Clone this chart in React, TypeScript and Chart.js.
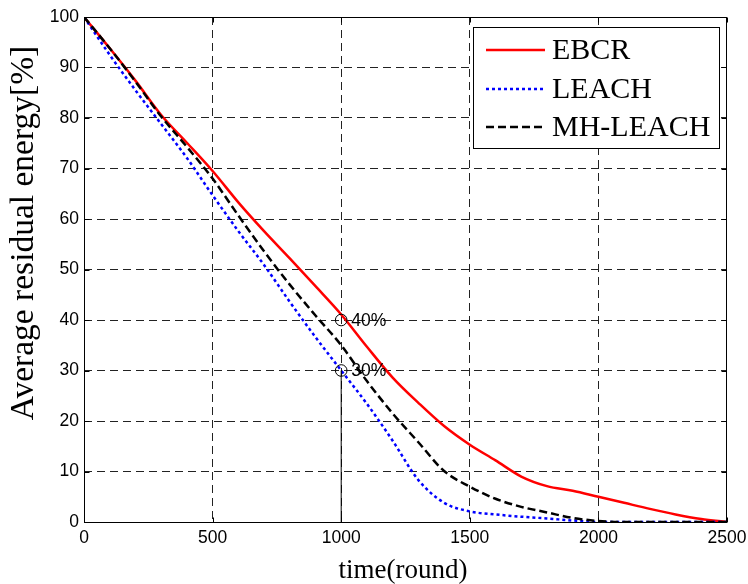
import React, { useEffect, useRef } from 'react';
import { Chart, registerables } from 'chart.js';

Chart.register(...registerables);

// ---- data ----
const rounds = [0, 100, 200, 300, 400, 500, 600, 700, 800, 900, 1000, 1100, 1200, 1300, 1400, 1500, 1600, 1700, 1800, 1900, 2000, 2100, 2200, 2300, 2400, 2500];
const ebcr = [100, 93.8, 87.4, 80.6, 75.1, 69.5, 63.3, 57.6, 52.2, 46.7, 41.1, 34.7, 28.6, 23.6, 19.0, 15.3, 12.2, 9.0, 7.1, 6.2, 5.0, 3.8, 2.6, 1.5, 0.6, 0];
const leach = [100, 92.5, 85.5, 78.8, 72.1, 64.7, 57.6, 50.9, 43.6, 36.6, 30.0, 23.4, 16.1, 8.3, 3.8, 2.1, 1.5, 1.05, 0.7, 0.3, 0, 0, 0, 0, 0, 0];
const mhLeach = [100, 93.8, 87.2, 80.3, 74.3, 68.0, 60.7, 53.6, 47.0, 40.9, 35.0, 27.9, 21.5, 15.8, 10.1, 7.0, 4.6, 3.0, 1.9, 0.8, 0.2, 0, 0, 0, 0, 0];
const seriesLabels = ['EBCR', 'LEACH', 'MH-LEACH'];

const markerRounds = [1000, 1000];
const markerValues = [40, 30];
const markerLabels = ['40%', '30%'];
const guideRounds = [1000, 1000];
const guideValues = [0, 30];

const xMin = 0, xMax = 2500, xStep = 500;
const yMin = 0, yMax = 100, yStep = 10;
const xTitle = 'time(round)';
const yTitle = 'Average residual energy[%]';

const toXY = (xs: number[], ys: number[]) => xs.map((x, i) => ({ x, y: ys[i] }));

const decorPlugin = {
  id: 'decor',
  afterDatasetsDraw(chart: any) {
    const { ctx, chartArea: a, scales } = chart;
    const xs = scales.x, ys = scales.y;
    ctx.save();
    // annotation labels
    ctx.font = '17.5px "Liberation Sans"';
    ctx.fillStyle = '#000';
    ctx.textBaseline = 'middle';
    ctx.textAlign = 'left';
    markerLabels.forEach((t, i) => {
      ctx.fillText(t, xs.getPixelForValue(markerRounds[i]) + 10, ys.getPixelForValue(markerValues[i]) + 1);
    });

    // frame
    ctx.setLineDash([]);
    ctx.strokeStyle = '#000';
    ctx.lineWidth = 1;
    const L = Math.round(a.left) + 0.5, R = Math.round(a.right) - 0.5;
    const T = Math.round(a.top) + 0.5, B = Math.round(a.bottom) + 0.5;
    ctx.strokeRect(L, T, R - L, B - T);

    // inward ticks
    const tl = 5;
    ctx.beginPath();
    for (let v = xMin; v <= xMax; v += xStep) {
      const px = Math.round(xs.getPixelForValue(v)) + 0.5;
      ctx.moveTo(px, B); ctx.lineTo(px, B - tl);
      ctx.moveTo(px, T); ctx.lineTo(px, T + tl);
    }
    for (let v = yMin; v <= yMax; v += yStep) {
      const py = Math.round(ys.getPixelForValue(v)) + 0.5;
      ctx.moveTo(L, py); ctx.lineTo(L + tl, py);
      ctx.moveTo(R, py); ctx.lineTo(R - tl, py);
    }
    ctx.stroke();

    // legend
    const bx = 473.5, by = 27.5, bw = 246, bh = 121;
    ctx.fillStyle = '#fff';
    ctx.fillRect(bx, by, bw, bh);
    ctx.strokeStyle = '#000';
    ctx.lineWidth = 1;
    ctx.strokeRect(bx, by, bw, bh);
    const rows = [50, 89, 127];
    ctx.font = '30px "Liberation Serif"';
    ctx.textBaseline = 'middle';
    ctx.textAlign = 'left';
    for (let i = 0; i < 3; i++) {
      const ds = chart.data.datasets[i];
      ctx.save();
      ctx.strokeStyle = ds.borderColor;
      ctx.lineWidth = ds.borderWidth;
      ctx.setLineDash(ds.borderDash || []);
      ctx.beginPath();
      ctx.moveTo(486, rows[i]);
      ctx.lineTo(545, rows[i]);
      ctx.stroke();
      ctx.restore();
      ctx.fillStyle = '#000';
      ctx.fillText(ds.label, 552, rows[i] + 1);
    }

    // axis titles
    ctx.fillStyle = '#000';
    ctx.font = '27px "Liberation Serif"';
    ctx.textAlign = 'center';
    ctx.textBaseline = 'alphabetic';
    ctx.fillText(xTitle, 403, 578);
    ctx.save();
    ctx.translate(33, 233);
    ctx.rotate(-Math.PI / 2);
    ctx.font = '33.5px "Liberation Serif"';
    ctx.fillText(yTitle, 0, 0);
    ctx.restore();

    ctx.restore();
  },
};

export default function App() {
  const ref = useRef<HTMLCanvasElement>(null);
  useEffect(() => {
    const gridColor = (edgeA: number, edgeB: number) => (c: any) =>
      c.tick && (c.tick.value === edgeA || c.tick.value === edgeB) ? 'rgba(0,0,0,0)' : '#222';
    const chart = new Chart(ref.current as HTMLCanvasElement, {
      type: 'line',
      data: {
        datasets: [
          {
            label: seriesLabels[0], data: toXY(rounds, ebcr), borderColor: '#ff0000', borderWidth: 2.5,
            pointRadius: 0, cubicInterpolationMode: 'monotone', order: 3,
          },
          {
            label: seriesLabels[1], data: toXY(rounds, leach), borderColor: '#0000ff', borderWidth: 2.5,
            borderDash: [3, 3], pointRadius: 0, cubicInterpolationMode: 'monotone', order: 2,
          },
          {
            label: seriesLabels[2], data: toXY(rounds, mhLeach), borderColor: '#000000', borderWidth: 2.5,
            borderDash: [8, 4], pointRadius: 0, cubicInterpolationMode: 'monotone', order: 1,
          },
          {
            label: 'guide', data: toXY(guideRounds, guideValues), borderColor: '#000', borderWidth: 1,
            pointRadius: 0, order: 0,
          },
          {
            label: 'markers', data: toXY(markerRounds, markerValues), showLine: false,
            pointRadius: 5.8, pointBorderWidth: 1, pointBorderColor: '#000',
            pointBackgroundColor: 'rgba(0,0,0,0)', borderColor: '#000', order: 0,
          },
        ] as any,
      },
      options: {
        animation: false,
        responsive: false,
        devicePixelRatio: 1,
        layout: { padding: { top: 17, right: 21, left: 0, bottom: 0 } },
        plugins: { legend: { display: false }, tooltip: { enabled: false } },
        scales: {
          x: {
            type: 'linear', min: xMin, max: xMax,
            ticks: {
              stepSize: xStep, padding: 6, color: '#000', font: { family: 'Liberation Sans', size: 17.5 }, maxRotation: 0,
              callback: (v: any) => String(v),
            },
            grid: { drawTicks: false, color: gridColor(xMin, xMax), lineWidth: 1 },
            border: { display: false, dash: [8, 5] },
            afterFit: (s: any) => { s.height = 62; s.paddingLeft = 0; s.paddingRight = 0; },
          },
          y: {
            type: 'linear', min: yMin, max: yMax,
            ticks: {
              stepSize: yStep, padding: 5, color: '#000', font: { family: 'Liberation Sans', size: 17.5 },
              callback: (v: any) => String(v),
            },
            grid: { drawTicks: false, color: gridColor(yMin, yMax), lineWidth: 1 },
            border: { display: false, dash: [8, 5] },
            afterFit: (s: any) => { s.width = 84; s.paddingTop = 0; s.paddingBottom = 0; },
          },
        },
      } as any,
      plugins: [decorPlugin],
    });
    return () => chart.destroy();
  }, []);
  return (
    <div style={{ position: 'absolute', left: 0, top: 0, width: 748, height: 584, background: '#fff' }}>
      <canvas ref={ref} width={748} height={584} style={{ display: 'block', width: 748, height: 584 }} />
    </div>
  );
}
